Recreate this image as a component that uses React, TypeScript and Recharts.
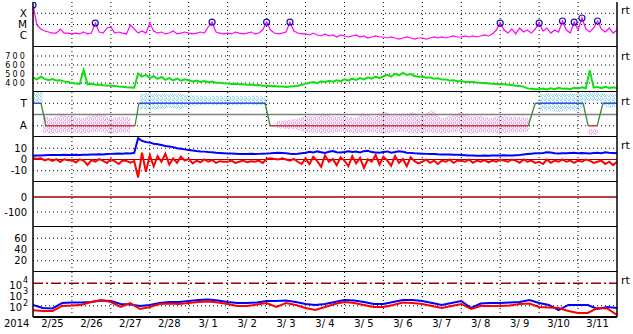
import React from "react";
import { ComposedChart, Line, Area, Scatter, XAxis, YAxis, ReferenceLine } from "recharts";

const FONT = "DejaVu Sans, Verdana, sans-serif";
const WIDTH = 633;
const PANEL_H = 45;
const AXIS_H = 17;
const DOTS = "1 3";
const DARK_RED = "#a00000";
const MARGIN = { top: 0, right: 0, bottom: 0, left: 0 };

// time axis: days since 2/25 00:00
const N_DAYS = 15;
const DAY_LABELS = ["2/25", "2/26", "2/27", "2/28", "3/ 1", "3/ 2", "3/ 3", "3/ 4", "3/ 5", "3/ 6", "3/ 7", "3/ 8", "3/ 9", "3/10", "3/11"];
const YEAR = "2014";
const GRID_DAYS = [1, 2, 3, 4, 5, 6, 7, 8, 9, 10, 11, 12, 13, 14];
const LABEL_DAYS = [0.5, 1.5, 2.5, 3.5, 4.5, 5.5, 6.5, 7.5, 8.5, 9.5, 10.5, 11.5, 12.5, 13.5, 14.5];
const FINE_STEP = 0.1;
const COARSE_STEP = 0.25;

// x-ray flux, log10 W/m2, every 0.1 day
const XRAY_LOG = [
  -3.27, -5.04, -5.4, -5.58, -5.67, -5.76, -5.76, -5.4, -5.76, -5.76,
  -5.84, -5.76, -5.84, -5.67, -5.84, -5.76, -4.87, -5.67, -5.76, -5.31,
  -5.22, -5.76, -5.67, -5.76, -5.84, -5.04, -5.4, -5.76, -5.58, -5.76,
  -4.87, -5.58, -5.76, -5.67, -5.84, -5.76, -5.58, -5.84, -5.76, -5.67,
  -5.76, -5.84, -5.76, -5.67, -5.76, -5.22, -4.78, -5.67, -5.76, -5.84,
  -5.76, -5.84, -5.67, -5.76, -5.84, -5.76, -5.67, -5.84, -5.76, -5.49,
  -4.78, -5.49, -5.76, -5.84, -5.76, -5.67, -4.78, -5.58, -5.76, -5.84,
  -5.84, -5.93, -5.76, -5.93, -6.02, -5.84, -6.02, -5.93, -6.11, -5.93,
  -6.02, -6.11, -6.02, -5.93, -6.11, -6.02, -6.2, -6.11, -6.02, -6.11,
  -6.11, -6.2, -6.11, -6.2, -6.29, -6.2, -6.11, -6.2, -6.29, -6.2,
  -6.2, -6.29, -6.2, -6.11, -6.2, -6.11, -6.2, -6.11, -6.02, -6.11,
  -6.11, -6.02, -6.11, -6.02, -6.11, -6.02, -5.93, -6.02, -5.84, -5.49,
  -4.87, -5.49, -5.76, -5.4, -5.84, -5.31, -5.67, -5.49, -5.76, -5.4,
  -4.87, -5.58, -5.31, -5.76, -5.49, -5.67, -4.69, -5.49, -5.76, -4.78,
  -5.49, -4.42, -5.4, -5.67, -5.31, -4.69, -5.4, -5.67, -5.31, -5.76,
  -5.49,
];
const FLARE_DAY = [0, 1.6, 4.6, 6.0, 6.6, 12.0, 13.0, 13.6, 13.9, 14.1, 14.5];
const FLARE_LOG = [-3.27, -4.87, -4.78, -4.78, -4.78, -4.87, -4.87, -4.69, -4.78, -4.42, -4.69];

// solar wind speed, km/s, every 0.1 day
const WIND_SPEED = [
  460, 440, 470, 445, 432, 445, 428, 430, 418, 412,
  400, 395, 390, 545, 385, 392, 380, 383, 375, 372,
  370, 368, 362, 358, 352, 350, 348, 505, 470, 490,
  455, 475, 445, 468, 435, 455, 430, 448, 425, 440,
  430, 418, 428, 412, 422, 408, 416, 402, 404, 398,
  395, 390, 392, 385, 387, 380, 382, 375, 377, 370,
  370, 365, 366, 360, 362, 355, 360, 365, 370, 380,
  390, 402, 410, 398, 420, 408, 425, 415, 430, 420,
  440, 425, 448, 435, 455, 440, 462, 448, 470, 455,
  475, 490, 470, 505, 485, 512, 490, 500, 478, 470,
  472, 458, 462, 448, 452, 438, 440, 428, 430, 420,
  420, 415, 410, 412, 405, 402, 400, 395, 392, 390,
  385, 387, 380, 377, 370, 367, 360, 340, 335, 330,
  330, 338, 328, 342, 332, 346, 336, 340, 332, 348,
  340, 352, 342, 540, 350, 356, 342, 358, 346, 352,
  345,
];

// IMF sector: +1 toward, -1 away
const POLARITY_DAY = [0, 0.205, 0.334, 2.62, 2.72, 5.96, 6.09, 12.72, 12.9, 14.13, 14.26, 14.49, 14.64, 15];
const POLARITY = [1, 1, -1, -1, 1, 1, -1, -1, 1, 1, -1, -1, 1, 1];

// field angle scatter envelopes, every 0.25 day
const TOWARD_LO = [1.0, 1.1, null, null, null, null, null, null, null, null, null, 0.5, 0.4, 0.5, 0.6, 0.5, 0.7, 0.8, 0.9, 0.8, 0.9, 0.8, 0.9, 0.8, 0.9, null, null, null, null, null, null, null, null, null, null, null, null, null, null, null, null, null, null, null, null, null, null, null, null, null, null, null, 0.3, 0.4, 0.2, 0.4, 0.3, 1.2, 1.2, 0.6, 0.7];
const TOWARD_HI = [2.0, 2.0, null, null, null, null, null, null, null, null, null, 1.9, 1.9, 1.8, 1.8, 1.9, 1.7, 1.7, 1.6, 1.7, 1.6, 1.7, 1.6, 1.7, 1.6, null, null, null, null, null, null, null, null, null, null, null, null, null, null, null, null, null, null, null, null, null, null, null, null, null, null, null, 1.9, 1.9, 1.9, 1.9, 1.9, 2.0, 2.0, 1.8, 1.8];
const AWAY_LO = [null, -1.6, -1.7, -1.6, -1.5, -1.7, -1.6, -1.5, -1.7, -1.6, -1.6, null, null, null, null, null, null, null, null, null, null, null, null, null, null, -1.2, -1.3, -1.3, -1.6, -1.6, -1.7, -1.6, -1.5, -1.7, -1.6, -1.6, -1.7, -1.6, -1.5, -1.7, -1.6, -1.6, -1.7, -1.6, -1.5, -1.7, -1.6, -1.6, -1.7, -1.6, -1.6, -1.5, null, null, null, null, null, -1.8, -1.8, null, null];
const AWAY_HI = [null, -0.1, -0.3, 0.0, -0.2, -0.3, -0.1, 0.0, -0.3, -0.2, -0.2, null, null, null, null, null, null, null, null, null, null, null, null, null, null, -0.6, -0.5, -0.4, -0.1, -0.2, 0.0, -0.2, -0.1, -0.3, 0.1, -0.2, 0.3, -0.1, 0.0, 0.2, -0.2, 0.4, -0.3, -0.1, 0.2, -0.2, -0.1, -0.3, -0.1, -0.2, -0.2, -0.3, null, null, null, null, null, -1.3, -1.3, null, null];

// magnetic field, nT, every 0.1 day
const BT = [
  3.4, 3.5, 3.6, 3.8, 4.0, 4.0, 4.1, 4.0, 4.2, 4.1,
  4.0, 4.2, 4.1, 4.3, 4.2, 4.4, 4.5, 4.6, 4.5, 4.8,
  5.0, 5.2, 5.3, 5.2, 5.5, 5.4, 6.0, 19.0, 16.5, 15.5,
  15.0, 14.0, 13.5, 12.8, 12.0, 11.5, 11.0, 10.0, 9.5, 9.0,
  8.5, 8.0, 7.5, 7.2, 7.0, 6.6, 6.4, 6.0, 5.8, 5.6,
  5.4, 5.3, 5.2, 5.0, 5.0, 4.9, 5.0, 4.8, 5.0, 5.2,
  5.3, 5.5, 5.8, 6.0, 5.8, 5.5, 5.2, 5.0, 5.2, 5.6,
  6.0, 6.8, 6.2, 7.2, 6.5, 5.8, 6.9, 7.6, 6.4, 6.2,
  6.7, 7.3, 6.6, 7.0, 6.2, 7.4, 7.8, 6.6, 6.3, 6.0,
  6.7, 7.2, 6.1, 6.6, 7.4, 6.8, 6.0, 5.8, 5.5, 5.4,
  5.2, 5.0, 4.8, 4.8, 4.6, 4.5, 4.4, 4.5, 4.3, 4.2,
  4.0, 3.8, 3.6, 3.5, 3.4, 3.4, 3.6, 3.4, 3.5, 3.6,
  3.6, 3.8, 3.6, 3.5, 3.8, 4.0, 4.4, 4.8, 5.2, 5.5,
  5.6, 5.8, 6.5, 6.2, 5.6, 5.4, 5.5, 5.6, 5.8, 6.0,
  5.5, 5.8, 5.6, 5.4, 5.8, 6.0, 5.6, 6.4, 6.0, 5.8,
  5.6,
];
const BZ = [
  1.2, 0.6, 1.0, -0.8, 0.4, -1.2, 0.3, -2.2, 0.2, -0.6,
  -0.4, -2.6, 0.2, -1.0, -4.8, -0.6, -1.8, 0.4, -1.2, -3.2,
  0.2, -1.6, -4.0, -0.8, -1.2, -2.8, -1.5, -16.0, 6.0, -11.0,
  4.0, -6.0, 3.0, -2.0, 5.0, -4.5, 1.0, -3.0, 2.5, -1.0,
  0.5, -3.5, -1.0, -2.5, 0.0, -2.0, -0.5, -3.0, -1.5, -2.0,
  -2.0, -1.0, -3.0, -2.0, -1.0, -2.5, -1.5, -2.0, -1.0, -3.0,
  0.5, 1.0, 0.5, 0.0, 1.0, 0.0, -1.0, 0.5, -2.0, -4.0,
  1.0, -4.0, 2.5, -1.5, -6.5, 3.5, -2.0, 0.5, -5.0, 2.0,
  -1.0, -6.0, 3.0, -3.5, 1.5, -7.5, 0.0, -2.0, 4.0, -4.5,
  2.5, -1.0, -5.5, 3.0, -3.0, 0.5, -6.0, 2.0, -1.5, -3.5,
  -2.0, 0.0, -3.0, -1.0, -4.0, -1.0, -2.0, 0.0, -3.0, -1.0,
  -1.0, -2.0, 0.0, -3.0, -1.0, -2.0, -0.5, -2.5, -1.0, -2.0,
  0.0, -1.0, -2.0, 0.0, -1.0, -3.0, 0.0, -2.0, -1.0, -3.0,
  -2.0, -4.0, 0.0, -3.0, -1.0, -2.0, 0.0, -2.0, -1.0, -3.0,
  -1.0, -2.0, 0.0, -1.0, -3.0, -2.0, -1.0, -4.0, -2.0, -5.0,
  -2.0,
];

// electron flux, log10, every 0.25 day
const ELEC_BLUE = [
  2.07, 1.8, 1.76, 2.24, 2.29, 2.29, 2.33, 2.47, 2.42, 2.16,
  2.11, 1.98, 2.07, 2.24, 2.33, 2.33, 2.42, 2.51, 2.56, 2.47,
  2.33, 2.24, 2.24, 2.29, 2.42, 2.42, 2.47, 2.33, 2.16, 2.07,
  2.16, 2.33, 2.51, 2.47, 2.33, 2.16, 2.16, 2.33, 2.51, 2.51,
  2.42, 2.24, 2.07, 2.24, 2.42, 1.8, 2.2, 2.24, 2.24, 2.29,
  2.33, 2.51, 2.24, 2.07, 1.62, 2.07, 2.07, 2.07, 1.71, 1.89, 1.8,
];
const ELEC_RED = [
  1.6, 1.53, 1.53, 1.98, 2.02, 2.09, 2.33, 2.51, 2.33, 1.89,
  2.24, 1.71, 1.89, 2.16, 2.2, 2.16, 2.24, 2.33, 2.38, 2.29,
  2.16, 1.98, 1.98, 2.11, 2.24, 1.89, 2.24, 2.07, 1.8, 1.62,
  1.89, 2.16, 2.33, 2.24, 2.07, 1.89, 1.89, 2.07, 2.29, 2.24,
  2.16, 1.98, 1.8, 1.98, 2.16, 1.71, 1.98, 1.98, 1.98, 2.02,
  2.16, 2.2, 1.89, 1.84, 1.8, 1.53, 1.36, 1.36, 1.8, 1.76, 1.18,
];

const xrayRows = XRAY_LOG.map((v, i) => ({ d: i * FINE_STEP, v }));
const flareRows = FLARE_DAY.map((d, i) => ({ d, v: FLARE_LOG[i] }));
const windRows = WIND_SPEED.map((v, i) => ({ d: i * FINE_STEP, v }));
const fieldRows = BT.map((bt, i) => ({ d: i * FINE_STEP, bt, bz: BZ[i] }));
const cloudRows = TOWARD_LO.map((lo, i) => ({
  d: i * COARSE_STEP,
  toward: lo == null ? null : [lo, TOWARD_HI[i]],
  away: AWAY_LO[i] == null ? null : [AWAY_LO[i], AWAY_HI[i]],
}));
const electronRows = ELEC_BLUE.map((b, i) => ({ d: i * COARSE_STEP, hi: b, lo: ELEC_RED[i] }));
const emptyRows = [{ d: 0 }, { d: N_DAYS }];

function polaritySegments(kind: "toward" | "away" | "switch") {
  const rows: { d: number; v: number | null }[] = [];
  for (let i = 0; i < POLARITY.length - 1; i++) {
    const a = POLARITY[i];
    const b = POLARITY[i + 1];
    const k = a !== b ? "switch" : a > 0 ? "toward" : "away";
    if (k !== kind) continue;
    rows.push({ d: POLARITY_DAY[i], v: a }, { d: POLARITY_DAY[i + 1], v: b }, { d: POLARITY_DAY[i + 1], v: null });
  }
  return rows;
}

const PowerTick = (props: any) => {
  const { x, y, payload } = props;
  return (
    <g>
      <text x={x - 5} y={y + 2} dy="0.35em" textAnchor="end" fontSize={10} fill="#000" fontFamily={FONT}>
        10
      </text>
      <text x={x - 4} y={y - 3} dy="0.35em" textAnchor="start" fontSize={8} fill="#000" fontFamily={FONT}>
        {payload.value}
      </text>
    </g>
  );
};

const FlareMark = (p: any) => (
  <circle cx={p.cx} cy={p.cy} r={3} fill="none" stroke="#1010b0" strokeWidth={1.2} />
);

type FrameOpts = {
  domain: [number, number];
  ticks: number[];
  format?: (v: number) => string;
  rt?: number;
  bottom?: boolean;
  tick?: any;
  fontSize?: number;
  spacing?: number;
};

function frame(o: FrameOpts) {
  const tickStyle = { fontSize: o.fontSize ?? 10, fill: "#000", fontFamily: FONT, letterSpacing: o.spacing ?? 0 };
  return [
    o.bottom ? (
      <XAxis
        key="x"
        type="number"
        dataKey="d"
        domain={[0, N_DAYS]}
        allowDataOverflow
        ticks={LABEL_DAYS}
        interval={0}
        tickFormatter={(v: number) => DAY_LABELS[Math.floor(v)]}
        height={AXIS_H}
        tickLine={false}
        tickSize={0}
        tickMargin={3}
        axisLine={{ stroke: "#000", strokeWidth: 2 }}
        tick={{ fontSize: 10, fill: "#000", fontFamily: FONT }}
      />
    ) : (
      <XAxis key="x" type="number" dataKey="d" domain={[0, N_DAYS]} allowDataOverflow hide />
    ),
    <YAxis
      key="y"
      type="number"
      domain={o.domain}
      allowDataOverflow
      ticks={o.ticks}
      interval={0}
      width={33}
      tickLine={false}
      tickSize={0}
      tickMargin={6}
      axisLine={{ stroke: "#000", strokeWidth: 1.5 }}
      tick={o.tick ?? tickStyle}
      tickFormatter={o.format}
    />,
    <YAxis
      key="r"
      yAxisId="r"
      orientation="right"
      type="number"
      domain={o.domain}
      allowDataOverflow
      ticks={o.rt == null ? undefined : [o.rt]}
      interval={0}
      width={16}
      tickLine={false}
      tickSize={0}
      tickMargin={4}
      axisLine={{ stroke: "#000", strokeWidth: 1.5 }}
      tick={o.rt == null ? false : { fontSize: 11, fill: "#000", fontFamily: FONT }}
      tickFormatter={() => "rt"}
    />,
    ...GRID_DAYS.map((d) => <ReferenceLine key={`g${d}`} x={d} stroke="#000" strokeDasharray={DOTS} />),
    o.bottom ? null : <ReferenceLine key="b" y={o.domain[0]} stroke="#000" strokeWidth={2} />,
  ];
}

const hDots = (vals: number[]) =>
  vals.map((v) => <ReferenceLine key={`h${v}`} y={v} stroke="#000" strokeDasharray={DOTS} />);

const line = (dataKey: string, stroke: string, width = 1.5, data?: any[]) => (
  <Line
    key={dataKey + stroke}
    data={data}
    dataKey={dataKey}
    type="linear"
    stroke={stroke}
    strokeWidth={width}
    dot={false}
    activeDot={false}
    isAnimationActive={false}
    connectNulls={false}
  />
);

const XRAY_CLASS: Record<number, string> = { [-4]: "X", [-5]: "M", [-6]: "C" };

export default function App() {
  return (
    <div style={{ position: "absolute", left: 0, top: 0, width: WIDTH, height: 334, background: "#fff", fontFamily: FONT }}>
      <div style={{ position: "absolute", top: 2 }}>
        <ComposedChart width={WIDTH} height={PANEL_H} data={xrayRows} margin={MARGIN}>
          {frame({ domain: [-7, -3], ticks: [-4, -5, -6], format: (v) => XRAY_CLASS[v], rt: -3.75, fontSize: 10.5 })}
          {hDots([-4, -5])}
          {line("v", "#ff00ff", 1.2)}
          <Scatter data={flareRows} dataKey="v" shape={FlareMark} isAnimationActive={false} />
        </ComposedChart>
      </div>

      <div style={{ position: "absolute", top: 47 }}>
        <ComposedChart width={WIDTH} height={PANEL_H} data={windRows} margin={MARGIN}>
          {frame({ domain: [300, 800], ticks: [700, 600, 500, 400], rt: 700, fontSize: 8, spacing: 2.2 })}
          {hDots([700, 600, 500, 400])}
          {line("v", "#10e010", 2)}
        </ComposedChart>
      </div>

      <div style={{ position: "absolute", top: 92 }}>
        <ComposedChart width={WIDTH} height={PANEL_H} data={cloudRows} margin={MARGIN}>
          <defs>
            <pattern id="towardDots" width="4" height="4" patternUnits="userSpaceOnUse">
              <rect x="0" y="0" width="2" height="1" fill="#8fd8f4" />
              <rect x="2" y="1" width="1" height="2" fill="#8fd8f4" />
              <rect x="0" y="2" width="1" height="1" fill="#8fd8f4" />
              <rect x="3" y="3" width="1" height="1" fill="#8fd8f4" />
              <rect x="1" y="3" width="1" height="1" fill="#c8c8c8" />
            </pattern>
            <pattern id="awayDots" width="4" height="4" patternUnits="userSpaceOnUse">
              <rect x="0" y="0" width="2" height="1" fill="#f4a6f0" />
              <rect x="2" y="1" width="2" height="1" fill="#f4a6f0" />
              <rect x="1" y="2" width="1" height="2" fill="#f4a6f0" />
              <rect x="3" y="3" width="1" height="1" fill="#f4a6f0" />
              <rect x="3" y="2" width="1" height="1" fill="#cfcfcf" />
            </pattern>
          </defs>
          <Area dataKey="toward" type="linear" stroke="none" fill="url(#towardDots)" fillOpacity={1} isAnimationActive={false} activeDot={false} />
          <Area dataKey="away" type="linear" stroke="none" fill="url(#awayDots)" fillOpacity={1} isAnimationActive={false} activeDot={false} />
          {frame({ domain: [-2, 2], ticks: [1, -1], format: (v) => (v > 0 ? "T" : "A"), rt: 1.2, fontSize: 10.5 })}
          {hDots([1, -1])}
          <ReferenceLine y={0} stroke="#808080" strokeWidth={1.5} />
          {line("v", "#3c50e0", 1.3, polaritySegments("toward"))}
          {line("v", "#e03838", 1.3, polaritySegments("away"))}
          {line("v", "#3a8a3a", 1.3, polaritySegments("switch"))}
        </ComposedChart>
      </div>

      <div style={{ position: "absolute", top: 137 }}>
        <ComposedChart width={WIDTH} height={PANEL_H} data={fieldRows} margin={MARGIN}>
          {frame({ domain: [-20, 20], ticks: [10, 0, -10], rt: 13 })}
          {hDots([10, -10])}
          <ReferenceLine y={0} stroke={DARK_RED} strokeWidth={1.2} />
          {line("bt", "#0000ff", 2)}
          {line("bz", "#ff0000", 2)}
        </ComposedChart>
      </div>

      <div style={{ position: "absolute", top: 182 }}>
        <ComposedChart width={WIDTH} height={PANEL_H} data={emptyRows} margin={MARGIN}>
          {frame({ domain: [-200, 100], ticks: [0, -100] })}
          {hDots([-100])}
          <ReferenceLine y={0} stroke={DARK_RED} strokeWidth={1.5} />
        </ComposedChart>
      </div>

      <div style={{ position: "absolute", top: 227 }}>
        <ComposedChart width={WIDTH} height={PANEL_H} data={emptyRows} margin={MARGIN}>
          {frame({ domain: [0, 80], ticks: [60, 40, 20] })}
          {hDots([60, 40, 20])}
        </ComposedChart>
      </div>

      <div style={{ position: "absolute", top: 272 }}>
        <ComposedChart width={WIDTH} height={PANEL_H + AXIS_H} data={electronRows} margin={MARGIN}>
          {frame({ domain: [1, 5], ticks: [4, 3, 2], rt: 4.3, bottom: true, tick: PowerTick })}
          {hDots([3, 2])}
          <ReferenceLine y={4} stroke={DARK_RED} strokeWidth={1.5} strokeDasharray="10 3 2 3" />
          {line("hi", "#0000ff", 2)}
          {line("lo", "#ff0000", 2)}
        </ComposedChart>
      </div>

      <div style={{ position: "absolute", left: 4, top: 319, fontSize: 10, lineHeight: "10px", color: "#000" }}>{YEAR}</div>
    </div>
  );
}
